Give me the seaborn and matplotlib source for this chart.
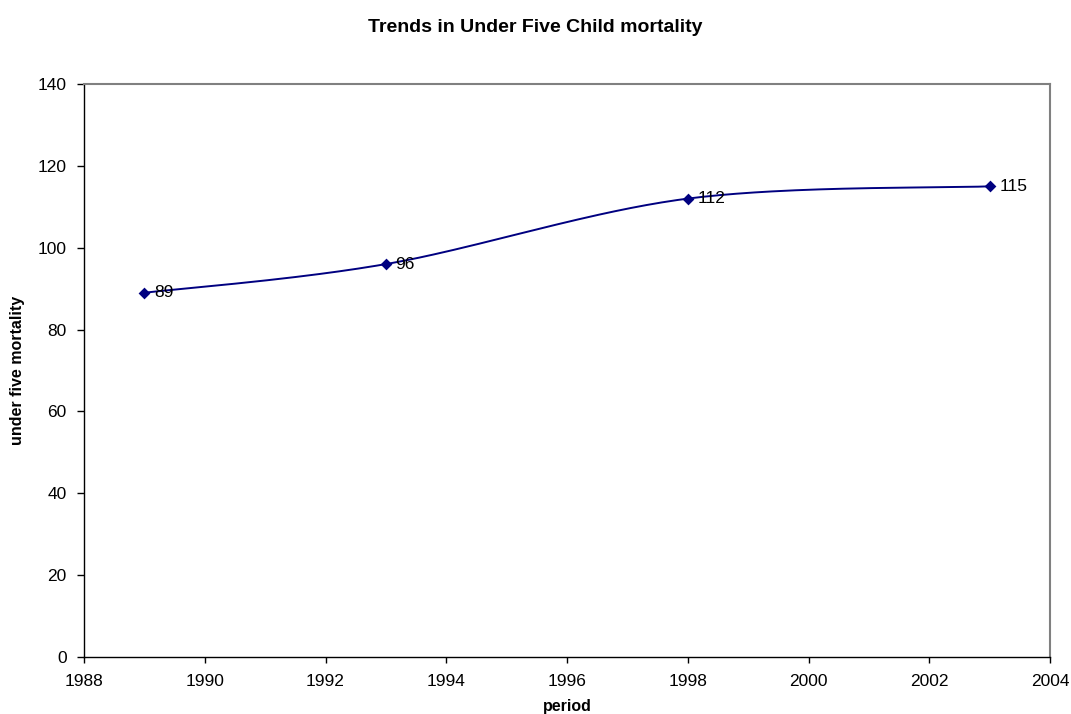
import numpy as np
import pandas as pd
import matplotlib
matplotlib.use("Agg")
import matplotlib.pyplot as plt
import seaborn as sns

# Under-five mortality by survey period
years = [1989, 1993, 1998, 2003]
mortality = [89, 96, 112, 115]

df = pd.DataFrame({"period": years, "u5mr": mortality})

sns.set_style("white")
plt.rcParams["font.family"] = ["Liberation Sans", "DejaVu Sans"]
plt.rcParams["text.color"] = "black"
plt.rcParams["axes.labelcolor"] = "black"

NAVY = "#000080"


def smooth_curve(x, y, n=60):
    """Catmull-Rom style cubic Bezier through the points (spreadsheet 'smoothed line')."""
    x = np.asarray(x, float)
    y = np.asarray(y, float)
    px = np.concatenate([[x[0]], x, [x[-1]]])
    py = np.concatenate([[y[0]], y, [y[-1]]])
    xs, ys = [], []
    t = np.linspace(0, 1, n)
    for i in range(1, len(px) - 2):
        p0 = np.array([px[i], py[i]])
        p3 = np.array([px[i + 1], py[i + 1]])
        c1 = p0 + (np.array([px[i + 1], py[i + 1]]) - np.array([px[i - 1], py[i - 1]])) / 6
        c2 = p3 - (np.array([px[i + 2], py[i + 2]]) - np.array([px[i], py[i]])) / 6
        pts = ((1 - t)[:, None] ** 3 * p0 + 3 * ((1 - t) ** 2 * t)[:, None] * c1
               + 3 * ((1 - t) * t ** 2)[:, None] * c2 + (t ** 3)[:, None] * p3)
        xs.extend(pts[:, 0])
        ys.extend(pts[:, 1])
    return np.array(xs), np.array(ys)


fig = plt.figure(figsize=(10.71, 7.14), dpi=100)
ax = fig.add_axes([84 / 1071, 57 / 714, 966 / 1071, 573 / 714])

cx, cy = smooth_curve(df["period"], df["u5mr"])
curve = pd.DataFrame({"period": cx, "u5mr": cy})
sns.lineplot(data=curve, x="period", y="u5mr", sort=False, color=NAVY,
             linewidth=1.4, ax=ax, estimator=None)
sns.scatterplot(data=df, x="period", y="u5mr", marker="D", s=36, color=NAVY,
                edgecolor=NAVY, linewidth=0, ax=ax, zorder=3)

for xv, yv in zip(years, mortality):
    ax.annotate(str(yv), (xv, yv), xytext=(7, 0), textcoords="offset points",
                ha="left", va="center", fontsize=12.5, color="black")

ax.set_xlim(1988, 2004)
ax.set_ylim(0, 140)
ax.set_xticks(range(1988, 2005, 2))
ax.set_yticks(range(0, 141, 20))
ax.tick_params(axis="both", labelsize=12.5, width=1, direction="out",
               colors="black", bottom=True, left=True)
ax.tick_params(axis="x", length=4, pad=8)
ax.tick_params(axis="y", length=5, pad=7.5)

for side in ("top", "right"):
    ax.spines[side].set_visible(True)
    ax.spines[side].set_color("#808080")
    ax.spines[side].set_linewidth(1.5)
for side in ("left", "bottom"):
    ax.spines[side].set_color("black")
    ax.spines[side].set_linewidth(1.0)

ax.set_xlabel("")
ax.set_ylabel("")
fig.text(567 / 1071, 1 - 707 / 714, "period", ha="center", va="center",
         fontsize=11.5, fontweight="bold")
fig.text(18 / 1071, 1 - 370 / 714, "under five mortality", ha="center", va="center",
         rotation=90, fontsize=11.5, fontweight="bold")
fig.text(0.5, 1 - 28 / 714, "Trends in Under Five Child mortality", ha="center",
         va="center", fontsize=14, fontweight="bold")

fig.savefig("out.png", dpi=100, facecolor="white")
